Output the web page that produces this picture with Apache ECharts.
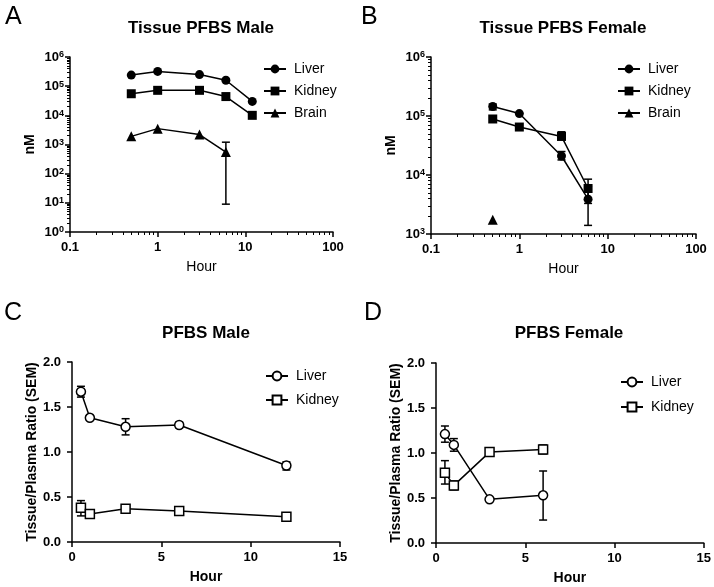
<!DOCTYPE html>
<html><head><meta charset="utf-8">
<script src="https://cdn.jsdelivr.net/npm/echarts@6/dist/echarts.min.js"></script>
<style>html,body{margin:0;padding:0;background:#fff}#c{width:714px;height:587px}</style>
</head><body><div id="c"></div>
<script>
// ---- Data ----
const hoursMale = [0.5, 1, 3, 6, 12];
const hoursFemale = [0.5, 1, 3, 6];
// Panel A: tissue PFBS male (nM)
const liverMaleNM = [240000, 320000, 250000, 160000, 30000];
const kidneyMaleNM = [55000, 72000, 72000, 44000, 10000];
const brainMaleNM = [1900, 3500, 2200, 550, null];
const brainMaleErrLo = [null, null, null, 9, null];
const brainMaleErrHi = [null, null, null, 1200, null];
// Panel B: tissue PFBS female (nM)
const liverFemaleNM = [145000, 110000, 21000, 3900];
const liverFemaleErrLo = [127000, null, 18000, 1400];
const liverFemaleErrHi = [159000, null, 25000, 6400];
const kidneyFemaleNM = [89000, 65000, 45000, 5900];
const kidneyFemaleErrLo = [null, null, 40000, 3300];
const kidneyFemaleErrHi = [null, null, 54000, 8500];
const brainFemaleNM = [1750, null, null, null];
// Panel C: tissue/plasma ratio male
const liverMaleRatio = [1.67, 1.38, 1.28, 1.30, 0.85];
const liverMaleRatioLo = [1.61, 1.36, 1.19, 1.27, 0.80];
const liverMaleRatioHi = [1.73, 1.40, 1.37, 1.33, 0.89];
const kidneyMaleRatio = [0.38, 0.31, 0.37, 0.345, 0.28];
const kidneyMaleRatioLo = [0.29, 0.28, 0.35, 0.33, 0.27];
const kidneyMaleRatioHi = [0.46, 0.34, 0.39, 0.36, 0.29];
// Panel D: tissue/plasma ratio female
const liverFemaleRatio = [1.21, 1.09, 0.485, 0.53];
const liverFemaleRatioLo = [1.12, 1.02, 0.47, 0.255];
const liverFemaleRatioHi = [1.30, 1.16, 0.50, 0.80];
const kidneyFemaleRatio = [0.78, 0.64, 1.01, 1.04];
const kidneyFemaleRatioLo = [0.655, 0.59, 0.99, 0.99];
const kidneyFemaleRatioHi = [0.915, 0.69, 1.03, 1.09];
const xTickLabelsLog = ['0.1', '1', '10', '100'];
const titles = ['Tissue PFBS Male', 'Tissue PFBS Female', 'PFBS Male', 'PFBS Female'];
const letters = ['A', 'B', 'C', 'D'];

// ---- Helpers ----
const FF = '"Liberation Sans", Arial, Helvetica, sans-serif';
const BLACK = '#000';
function pairs(xs, ys) { return xs.map((x, i) => ys[i] == null ? null : [x, ys[i]]).filter(d => d); }
function errs(xs, lo, hi) { return xs.map((x, i) => lo[i] == null ? null : [x, lo[i], hi[i]]).filter(d => d); }

function lineSeries(name, idx, data, symbol, open) {
  return {
    type: 'line', name: name, xAxisIndex: idx, yAxisIndex: idx, data: data,
    symbol: symbol, symbolSize: symbol === 'triangle' ? 10 : 9, showSymbol: true,
    lineStyle: { color: BLACK, width: 1.5 },
    itemStyle: { color: open ? '#fff' : BLACK, borderColor: BLACK, borderWidth: open ? 1.5 : 0 },
    z: 5, animation: false, emphasis: { disabled: true }
  };
}
function errSeries(idx, data) {
  return {
    type: 'custom', xAxisIndex: idx, yAxisIndex: idx, data: data, z: 3, silent: true, animation: false,
    encode: { x: 0, y: [1, 2] },
    renderItem: function (params, api) {
      const x = api.value(0);
      const p1 = api.coord([x, api.value(1)]);
      const p2 = api.coord([x, api.value(2)]);
      const w = 4;
      const st = { stroke: BLACK, lineWidth: 1.5 };
      return { type: 'group', children: [
        { type: 'line', shape: { x1: p1[0], y1: p1[1], x2: p2[0], y2: p2[1] }, style: st },
        { type: 'line', shape: { x1: p1[0] - w, y1: p1[1], x2: p1[0] + w, y2: p1[1] }, style: st },
        { type: 'line', shape: { x1: p2[0] - w, y1: p2[1], x2: p2[0] + w, y2: p2[1] }, style: st }
      ] };
    }
  };
}
const axisLine = { show: true, lineStyle: { color: BLACK, width: 1.5 } };
const axisTick = { show: true, length: 5, lineStyle: { color: BLACK, width: 1.5 } };
const minorTick = { show: true, splitNumber: 9, length: 3, lineStyle: { color: BLACK, width: 1 } };
const lblStyle = { color: BLACK, fontFamily: FF, fontWeight: 'bold', fontSize: 13 };

function logX(idx, bold) {
  return {
    type: 'log', logBase: 10, gridIndex: idx, min: 0.1, max: 100, interval: 1,
    axisLine: axisLine, axisTick: axisTick, minorTick: minorTick, splitLine: { show: false },
    axisLabel: Object.assign({ margin: 9, formatter: v => xTickLabelsLog[Math.round(Math.log10(v)) + 1] }, lblStyle),
    name: 'Hour', nameLocation: 'middle', nameGap: 28,
    nameTextStyle: { color: BLACK, fontFamily: FF, fontSize: 14, fontWeight: bold ? 'bold' : 'normal' }
  };
}
function logY(idx, min) {
  return {
    type: 'log', logBase: 10, gridIndex: idx, min: min, max: 1000000, interval: 1,
    axisLine: axisLine, axisTick: axisTick, minorTick: minorTick, splitLine: { show: false },
    axisLabel: {
      margin: 6, formatter: v => '{b|10}{s|' + Math.round(Math.log10(v)) + '}',
      rich: {
        b: { color: BLACK, fontFamily: FF, fontWeight: 'bold', fontSize: 13 },
        s: { color: BLACK, fontFamily: FF, fontWeight: 'bold', fontSize: 9, verticalAlign: 'top' }
      }
    },
    name: 'nM', nameLocation: 'middle', nameGap: 33,
    nameTextStyle: { color: BLACK, fontFamily: FF, fontSize: 14, fontWeight: 'bold' }
  };
}
function linX(idx) {
  return {
    type: 'value', gridIndex: idx, min: 0, max: 15, interval: 5,
    axisLine: axisLine, axisTick: axisTick, splitLine: { show: false },
    axisLabel: Object.assign({ margin: 9 }, lblStyle),
    name: 'Hour', nameLocation: 'middle', nameGap: 28,
    nameTextStyle: { color: BLACK, fontFamily: FF, fontSize: 14, fontWeight: 'bold' }
  };
}
function linY(idx) {
  return {
    type: 'value', gridIndex: idx, min: 0, max: 2, interval: 0.5,
    axisLine: axisLine, axisTick: axisTick, splitLine: { show: false },
    axisLabel: Object.assign({ margin: 11, formatter: v => v.toFixed(1) }, lblStyle),
    name: 'Tissue/Plasma Ratio (SEM)', nameLocation: 'middle', nameGap: 31,
    nameTextStyle: { color: BLACK, fontFamily: FF, fontSize: 14, fontWeight: 'bold' }
  };
}
function legend(left, top, names, gap) {
  return {
    orient: 'vertical', left: left, top: top, itemWidth: 22, itemHeight: 11, itemGap: gap,
    padding: 0, data: names, selectedMode: false, formatter: n => n.split(':')[1],
    textStyle: { color: BLACK, fontFamily: FF, fontSize: 14, padding: [0, 0, 0, 3] }
  };
}

const titleText = [
  [201, 28], [563, 28], [206, 333], [569, 333]
].map((p, i) => ({ type: 'text', x: p[0], y: p[1], style: { text: titles[i], fill: BLACK, font: 'bold 17px ' + FF, align: 'center', verticalAlign: 'middle' } }));
const letterText = [
  [5, 17], [361, 17], [4, 313], [364, 313]
].map((p, i) => ({ type: 'text', x: p[0], y: p[1], style: { text: letters[i], fill: BLACK, font: '25px ' + FF, align: 'left', verticalAlign: 'middle' } }));

const option = {
  backgroundColor: '#fff',
  animation: false,
  grid: [
    { left: 70, top: 57, width: 263, height: 175 },
    { left: 431, top: 57, width: 265, height: 177 },
    { left: 72, top: 362, width: 268, height: 180 },
    { left: 436, top: 363, width: 269, height: 180 }
  ],
  xAxis: [logX(0, false), logX(1, false), linX(2), linX(3)],
  yAxis: [logY(0, 1), logY(1, 1000), linY(2), linY(3)],
  legend: [
    legend(263, 62, ['A:Liver', 'A:Kidney', 'A:Brain'], 8),
    legend(617, 62, ['B:Liver', 'B:Kidney', 'B:Brain'], 8),
    legend(265, 369, ['C:Liver', 'C:Kidney'], 10),
    legend(620, 375, ['D:Liver', 'D:Kidney'], 11)
  ],
  graphic: titleText.concat(letterText),
  series: [
    lineSeries('A:Liver', 0, pairs(hoursMale, liverMaleNM), 'circle', false),
    lineSeries('A:Kidney', 0, pairs(hoursMale, kidneyMaleNM), 'rect', false),
    lineSeries('A:Brain', 0, pairs(hoursMale, brainMaleNM), 'triangle', false),
    errSeries(0, errs(hoursMale, brainMaleErrLo, brainMaleErrHi)),
    lineSeries('B:Liver', 1, pairs(hoursFemale, liverFemaleNM), 'circle', false),
    lineSeries('B:Kidney', 1, pairs(hoursFemale, kidneyFemaleNM), 'rect', false),
    lineSeries('B:Brain', 1, pairs(hoursFemale, brainFemaleNM), 'triangle', false),
    errSeries(1, errs(hoursFemale, liverFemaleErrLo, liverFemaleErrHi)),
    errSeries(1, errs(hoursFemale, kidneyFemaleErrLo, kidneyFemaleErrHi)),
    lineSeries('C:Liver', 2, pairs(hoursMale, liverMaleRatio), 'circle', true),
    lineSeries('C:Kidney', 2, pairs(hoursMale, kidneyMaleRatio), 'rect', true),
    errSeries(2, errs(hoursMale, liverMaleRatioLo, liverMaleRatioHi)),
    errSeries(2, errs(hoursMale, kidneyMaleRatioLo, kidneyMaleRatioHi)),
    lineSeries('D:Liver', 3, pairs(hoursFemale, liverFemaleRatio), 'circle', true),
    lineSeries('D:Kidney', 3, pairs(hoursFemale, kidneyFemaleRatio), 'rect', true),
    errSeries(3, errs(hoursFemale, liverFemaleRatioLo, liverFemaleRatioHi)),
    errSeries(3, errs(hoursFemale, kidneyFemaleRatioLo, kidneyFemaleRatioHi))
  ]
};
const chart = echarts.init(document.getElementById('c'), null, { renderer: 'canvas' });
chart.setOption(option);
</script></body></html>
